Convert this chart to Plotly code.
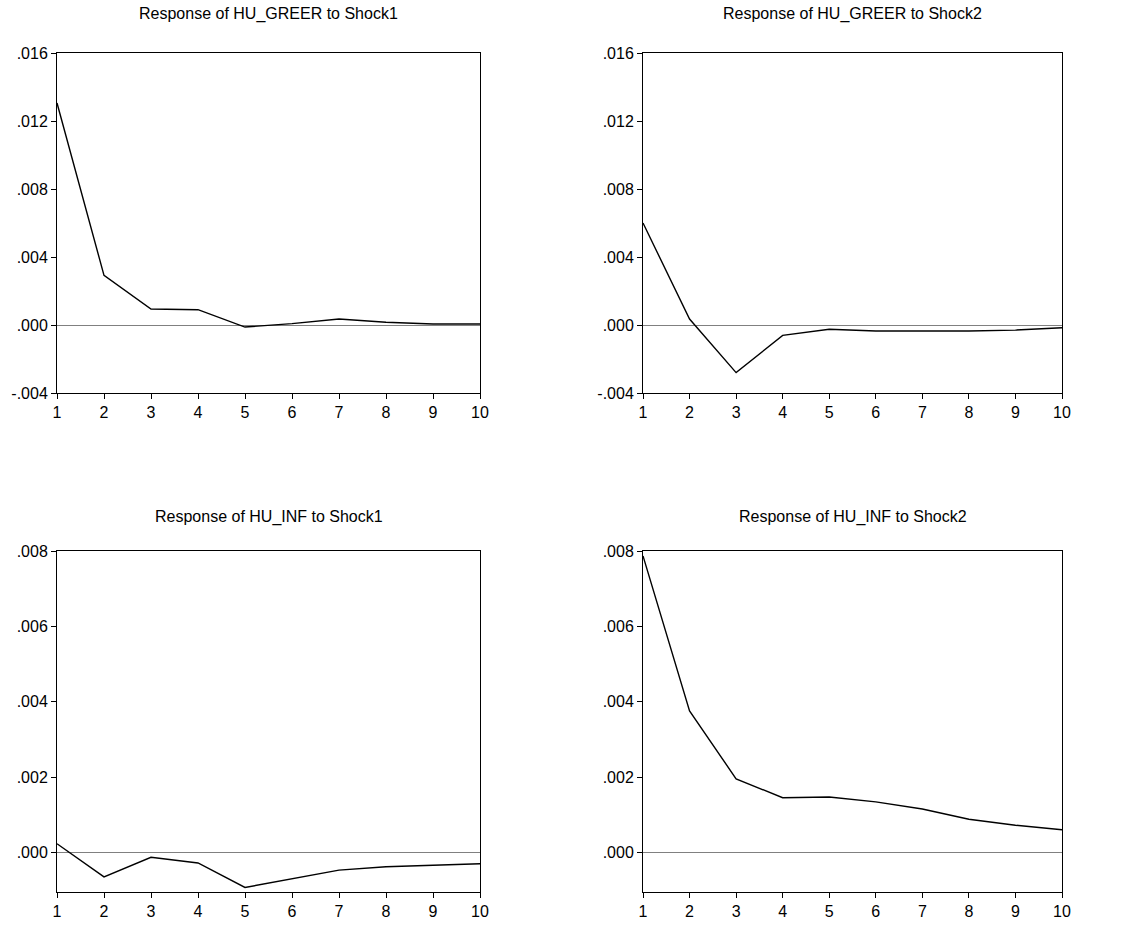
import plotly.graph_objects as go

periods = [1, 2, 3, 4, 5, 6, 7, 8, 9, 10]

greer_shock1 = [0.01306, 0.00292, 0.00094, 0.00090, -0.00012, 0.00008, 0.00035, 0.00016, 0.00006, 0.00006]
greer_shock2 = [0.00600, 0.00035, -0.00280, -0.00061, -0.00025, -0.00035, -0.00035, -0.00035, -0.00030, -0.00016]
inf_shock1 = [0.00024, -0.00064, -0.00012, -0.00027, -0.00092, -0.00069, -0.00046, -0.00037, -0.00033, -0.00029]
inf_shock2 = [0.00787, 0.00376, 0.00196, 0.00146, 0.00148, 0.00135, 0.00116, 0.00089, 0.00073, 0.00061]

titles = [
    "Response of HU_GREER to Shock1",
    "Response of HU_GREER to Shock2",
    "Response of HU_INF to Shock1",
    "Response of HU_INF to Shock2",
]

top_tickvals = [-0.004, 0.0, 0.004, 0.008, 0.012, 0.016]
top_ticktext = ["-.004", ".000", ".004", ".008", ".012", ".016"]
bot_tickvals = [0.0, 0.002, 0.004, 0.006, 0.008]
bot_ticktext = [".000", ".002", ".004", ".006", ".008"]

top_range = [-0.004, 0.016]
bot_range = [-0.00104, 0.008]

W, H = 1126, 927

def fx(px):
    return px / W

def fy(py):
    return 1 - py / H

panels = [
    (greer_shock1, (57, 480), (53, 393), top_range, top_tickvals, top_ticktext, 14),
    (greer_shock2, (643, 1062), (53, 393), top_range, top_tickvals, top_ticktext, 14),
    (inf_shock1, (57, 480), (551, 892), bot_range, bot_tickvals, bot_ticktext, 517),
    (inf_shock2, (643, 1062), (551, 892), bot_range, bot_tickvals, bot_ticktext, 517),
]

fig = go.Figure()
font_family = "Liberation Sans, Arial, sans-serif"

for i, (ys, (x0, x1), (yt, yb), yr, tv, tt, ty) in enumerate(panels):
    n = i + 1
    xa = "x" if n == 1 else f"x{n}"
    ya = "y" if n == 1 else f"y{n}"
    fig.add_trace(go.Scatter(
        x=periods, y=ys, mode="lines",
        line=dict(color="black", width=1.4),
        xaxis=xa, yaxis=ya, showlegend=False, hoverinfo="x+y",
    ))
    xkey = "xaxis" if n == 1 else f"xaxis{n}"
    ykey = "yaxis" if n == 1 else f"yaxis{n}"
    fig.layout[xkey] = dict(
        domain=[fx(x0), fx(x1)], anchor=ya, range=[1, 10],
        tickvals=periods, ticktext=[str(p) for p in periods],
        ticks="outside", ticklen=5, tickwidth=1, tickcolor="black",
        showline=True, linecolor="black", linewidth=1, mirror=True,
        showgrid=False, zeroline=False, automargin=False,
        tickfont=dict(family=font_family, size=16, color="black"),
    )
    fig.layout[ykey] = dict(
        domain=[fy(yb), fy(yt)], anchor=xa, range=yr,
        tickvals=tv, ticktext=tt,
        ticks="outside", ticklen=5, tickwidth=1, tickcolor="black",
        showline=True, linecolor="black", linewidth=1, mirror=True,
        showgrid=False, zeroline=True, zerolinecolor="#808080", zerolinewidth=1,
        automargin=False,
        tickfont=dict(family=font_family, size=16, color="black"),
    )
    fig.add_annotation(
        text=titles[i], xref="paper", yref="paper",
        x=fx((x0 + x1) / 2), y=fy(ty), xanchor="center", yanchor="middle",
        showarrow=False, font=dict(family=font_family, size=16, color="black"),
    )

fig.update_layout(
    width=W, height=H,
    margin=dict(l=0, r=0, t=0, b=0, pad=0),
    paper_bgcolor="white", plot_bgcolor="white",
)

fig.write_html("out.html", config={"displayModeBar": False},
               post_script="document.body.style.margin='0';")
